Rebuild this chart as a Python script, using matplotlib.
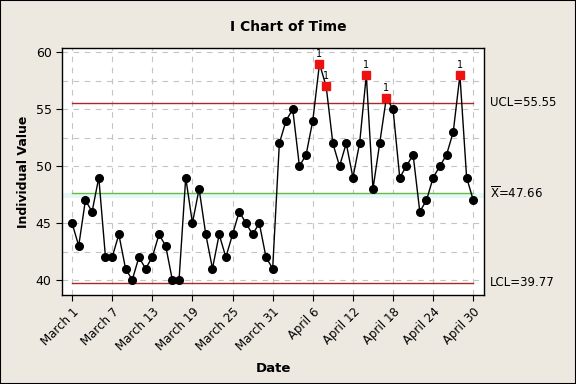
import matplotlib
matplotlib.use("Agg")
import matplotlib.pyplot as plt
from matplotlib.patches import Rectangle

values = [45, 43, 47, 46, 49, 42, 42, 44, 41, 40, 42, 41, 42, 44, 43, 40, 40,
          49, 45, 48, 44, 41, 44, 42, 44, 46, 45, 44, 45, 42, 41,
          52, 54, 55, 50, 51, 54, 59, 57, 52, 50, 52, 49, 52, 58, 48, 52, 56,
          55, 49, 50, 51, 46, 47, 49, 50, 51, 53, 58, 49, 47]
flagged = [37, 38, 44, 47, 58]
tick_pos = [0, 6, 12, 18, 24, 30, 36, 42, 48, 54, 60]
tick_labels = ["March 1", "March 7", "March 13", "March 19", "March 25", "March 31",
               "April 6", "April 12", "April 18", "April 24", "April 30"]
UCL, MEAN, LCL = 55.55, 47.66, 39.77

bg = "#EDE9E0"
fig = plt.figure(figsize=(5.76, 3.84), dpi=100, facecolor=bg)
fig.patches.append(Rectangle((0, 0), 1, 1, transform=fig.transFigure, fill=False,
                             edgecolor="black", linewidth=1.5))
ax = fig.add_axes([62/576, 1-295/384, (484-62)/576, (295-48)/384])
ax.set_facecolor("white")

x = list(range(len(values)))
ax.set_xlim(-1.5, 61.6)
ax.set_ylim(38.68, 60.38)

# grid
for yv in [40, 42.5, 45, 47.5, 50, 52.5, 55, 57.5, 60]:
    ax.axhline(yv, color="#C4C4C4", linestyle=(0, (5, 5)), linewidth=0.8, zorder=0)
for xv in tick_pos:
    ax.axvline(xv, color="#C4C4C4", linestyle=(0, (5, 5)), linewidth=0.8, zorder=0)

ax.axhspan(MEAN - 0.45, MEAN, color="#E6F7F7", zorder=0.5, lw=0)
ax.plot([0, 60], [UCL, UCL], color="#A52A2A", lw=1.0, zorder=1)
ax.plot([0, 60], [LCL, LCL], color="#A52A2A", lw=1.0, zorder=1)
ax.plot([0, 60], [MEAN, MEAN], color="#66BB44", lw=1.0, zorder=1)

ax.plot(x, values, color="black", lw=1.0, zorder=2)
normal = [i for i in x if i not in flagged]
ax.plot(normal, [values[i] for i in normal], "o", color="black", ms=5.5, zorder=3)
ax.plot(flagged, [values[i] for i in flagged], "s", color="#EE1111", ms=5.5, zorder=4)
for i in flagged:
    ax.text(i, values[i] + 0.45, "1", ha="center", va="bottom", fontsize=7)

ax.set_xticks(tick_pos)
ax.set_xticklabels(tick_labels, rotation=45, ha="right", rotation_mode="anchor", fontsize=8.5)
ax.set_yticks([40, 45, 50, 55, 60])
ax.tick_params(axis="y", labelsize=9, length=4, direction="out")
ax.tick_params(axis="x", length=4, direction="out")
for s in ax.spines.values():
    s.set_color("black")
    s.set_linewidth(1.0)

ax.set_xlabel("Date", fontsize=9.5, fontweight="bold", labelpad=6)
ax.set_ylabel("Individual Value", fontsize=9, fontweight="bold", labelpad=4)
fig.text(288/576, 1-27/384, "I Chart of Time", ha="center", va="center",
         fontsize=10, fontweight="bold")

tr = ax.get_yaxis_transform()
ax.text(1.015, UCL, "UCL=55.55", transform=tr, va="center", ha="left", fontsize=8.5)
ax.text(1.015, MEAN, r"$\mathregular{\overline{X}}$=47.66", transform=tr, va="center", ha="left", fontsize=8.5)
ax.text(1.015, LCL, "LCL=39.77", transform=tr, va="center", ha="left", fontsize=8.5)

fig.savefig("out.png", dpi=100, facecolor=bg)
